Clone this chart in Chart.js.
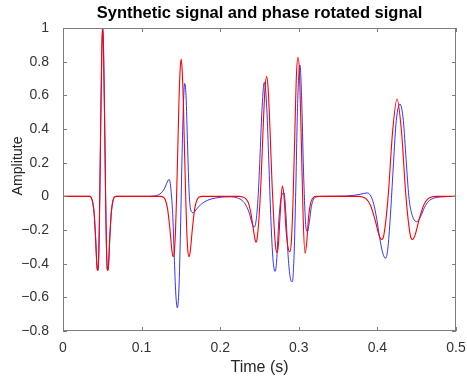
<!DOCTYPE html>
<html lang="en">
<head>
  <meta charset="UTF-8" />
  <title>Synthetic signal and phase rotated signal</title>
  <style>
    body {
      margin: 0;
      background: #ffffff;
    }
    canvas {
      display: block;
    }
  </style>
</head>
<body>
  <canvas id="chart" width="467" height="379"></canvas>

  <script src="https://cdn.jsdelivr.net/npm/chart.js"></script>
  <script>
    // synthetic signal (red)
    const redT = [0, 0.034, 0.0357, 0.0394, 0.0413, 0.0431, 0.0441, 0.045, 0.0459, 0.0468, 0.0477, 0.0487, 0.0496, 0.0505,
      0.0514, 0.0523, 0.0533, 0.0542, 0.0551, 0.056, 0.0569, 0.0579, 0.0597, 0.0616, 0.0653, 0.068,
      0.124, 0.1273, 0.1301, 0.133, 0.1359, 0.1388, 0.1403, 0.1416, 0.1431, 0.1445, 0.146, 0.1474, 0.1489, 0.1503,
      0.1517, 0.1532, 0.1546, 0.1561, 0.1575, 0.159, 0.1603, 0.1618, 0.1647, 0.1676, 0.1705, 0.1733, 0.177,
      0.224, 0.228, 0.232, 0.236, 0.239, 0.242, 0.2445, 0.2455, 0.247, 0.2495, 0.252, 0.2545, 0.257, 0.2591,
      0.261, 0.2635, 0.266, 0.2685, 0.2705, 0.2723, 0.274, 0.2765, 0.279, 0.2812, 0.2838, 0.2865, 0.2888,
      0.2905, 0.2925, 0.2948, 0.297, 0.299, 0.301, 0.3032, 0.3055, 0.3079, 0.31, 0.3125, 0.315, 0.318, 0.322,
      0.376, 0.38, 0.3854, 0.391, 0.3967, 0.4024, 0.4054, 0.408, 0.4137, 0.4193, 0.425, 0.4307, 0.4363, 0.442,
      0.4446, 0.4476, 0.4533, 0.459, 0.4646, 0.47, 0.475, 0.5];
    const redY = [0, 0, -0.005, -0.09, -0.23, -0.41, -0.44, -0.41, -0.26, 0, 0.33, 0.66, 0.91, 1,
      0.91, 0.66, 0.33, 0, -0.26, -0.41, -0.44, -0.41, -0.23, -0.09, -0.005, 0,
      0, -0.004, -0.02, -0.073, -0.188, -0.331, -0.358, -0.331, -0.21, 0, 0.27, 0.54, 0.74, 0.816,
      0.74, 0.54, 0.27, 0, -0.21, -0.331, -0.358, -0.331, -0.188, -0.073, -0.02, -0.004, 0,
      0, -0.003, -0.012, -0.04, -0.1, -0.19, -0.26, -0.273, -0.25, -0.12, 0.1, 0.39, 0.64, 0.711,
      0.64, 0.38, 0.07, -0.17, -0.3, -0.333, -0.29, -0.09, 0.061, 0, -0.2, -0.31, -0.329,
      -0.27, -0.05, 0.35, 0.72, 0.826, 0.72, 0.33, -0.12, -0.339, -0.28, -0.12, -0.04, -0.01, 0,
      0, -0.003, -0.014, -0.051, -0.134, -0.235, -0.256, -0.235, 0, 0.383, 0.578, 0.383, 0, -0.235,
      -0.256, -0.235, -0.134, -0.051, -0.014, -0.003, 0, 0];

    // phase rotated signal (blue)
    const blueT = [0, 0.034, 0.0357, 0.0394, 0.0413, 0.0431, 0.0441, 0.045, 0.0459, 0.0468, 0.0477, 0.0487, 0.0496, 0.0505,
      0.0514, 0.0523, 0.0533, 0.0542, 0.0551, 0.056, 0.0569, 0.0579, 0.0597, 0.0616, 0.0653, 0.068,
      0.11, 0.115, 0.12, 0.125, 0.129, 0.132, 0.1349, 0.1362, 0.1375, 0.1395, 0.1415, 0.1435, 0.1455, 0.1475,
      0.1495, 0.1515, 0.1535, 0.1548, 0.1565, 0.1585, 0.1605, 0.1625, 0.1658, 0.17, 0.175, 0.18, 0.187, 0.2, 0.21,
      0.215, 0.222, 0.228, 0.233, 0.237, 0.2405, 0.243, 0.2455, 0.248, 0.2505, 0.253, 0.2561, 0.259, 0.2615,
      0.264, 0.2665, 0.2685, 0.2701, 0.272, 0.2745, 0.2775, 0.2812, 0.2835, 0.2865, 0.289, 0.2917, 0.294,
      0.2962, 0.2985, 0.3015, 0.3035, 0.306, 0.3085, 0.3109, 0.3135, 0.316, 0.319, 0.323, 0.33,
      0.35, 0.36, 0.37, 0.378, 0.3863, 0.3905, 0.395, 0.399, 0.403, 0.407, 0.4105, 0.4135, 0.417, 0.4205,
      0.424, 0.4288, 0.433, 0.4365, 0.44, 0.4435, 0.45, 0.455, 0.46, 0.465, 0.471, 0.48, 0.5];
    const blueY = [0, 0, -0.005, -0.09, -0.23, -0.41, -0.44, -0.41, -0.26, 0, 0.33, 0.66, 0.91, 1,
      0.91, 0.66, 0.33, 0, -0.26, -0.41, -0.44, -0.41, -0.23, -0.09, -0.005, 0,
      0, 0.002, 0.006, 0.02, 0.045, 0.078, 0.1, 0.085, 0.03, -0.1, -0.35, -0.58, -0.662, -0.55,
      -0.2, 0.25, 0.58, 0.671, 0.6, 0.3, 0.02, -0.08, -0.097, -0.075, -0.05, -0.033, -0.018, -0.006, -0.003,
      -0.003, -0.01, -0.025, -0.055, -0.1, -0.16, -0.184, -0.15, -0.02, 0.22, 0.5, 0.677, 0.55, 0.25,
      -0.08, -0.33, -0.43, -0.445, -0.37, -0.15, -0.01, 0.021, -0.1, -0.36, -0.48, -0.507, -0.35,
      0.05, 0.55, 0.78, 0.6, 0.15, -0.15, -0.21, -0.15, -0.06, -0.015, -0.003, 0,
      0.001, 0.002, 0.006, 0.012, 0.02, 0.01, -0.04, -0.13, -0.25, -0.34, -0.368, -0.3, -0.08, 0.2,
      0.45, 0.548, 0.45, 0.22, 0, -0.1, -0.151, -0.12, -0.065, -0.03, -0.012, -0.004, 0];

    const xTicks = [0, 0.1, 0.2, 0.3, 0.4, 0.5];
    const xTickLabels = ['0', '0.1', '0.2', '0.3', '0.4', '0.5'];
    const yTicks = [-0.8, -0.6, -0.4, -0.2, 0, 0.2, 0.4, 0.6, 0.8, 1];
    const yTickLabels = ['\u22120.8', '\u22120.6', '\u22120.4', '\u22120.2', '0', '0.2', '0.4', '0.6', '0.8', '1'];

    const FONT = '"Liberation Sans", Arial, Helvetica, sans-serif';

    function pairs(ts, ys) {
      return ts.map((t, i) => ({ x: t, y: ys[i] }));
    }

    // box, inner ticks and the texts, matlab style
    const decor = {
      id: 'decor',
      afterDraw(chart) {
        const { ctx, chartArea: a, scales: { x, y } } = chart;
        ctx.save();
        ctx.strokeStyle = '#7d7d7d';
        ctx.lineWidth = 1;
        ctx.beginPath();
        xTicks.forEach(v => {
          const px = Math.round(x.getPixelForValue(v)) + 0.5;
          ctx.moveTo(px, a.bottom); ctx.lineTo(px, a.bottom - 4);
          ctx.moveTo(px, a.top); ctx.lineTo(px, a.top + 4);
        });
        yTicks.forEach(v => {
          const py = Math.round(y.getPixelForValue(v)) + 0.5;
          ctx.moveTo(a.left, py); ctx.lineTo(a.left + 4, py);
          ctx.moveTo(a.right, py); ctx.lineTo(a.right - 4, py);
        });
        ctx.stroke();
        ctx.strokeRect(a.left + 0.5, a.top + 0.5, a.right - a.left - 1, a.bottom - a.top - 1);

        ctx.fillStyle = '#000';
        ctx.textAlign = 'center';
        ctx.textBaseline = 'middle';
        ctx.font = 'bold 16.5px ' + FONT;
        ctx.fillText('Synthetic signal and phase rotated signal', (a.left + a.right) / 2, 13);

        ctx.fillStyle = '#262626';
        ctx.font = '16px ' + FONT;
        ctx.fillText('Time (s)', (a.left + a.right) / 2, 368);

        ctx.translate(18, 166);
        ctx.rotate(-Math.PI / 2);
        ctx.font = '15.5px ' + FONT;
        ctx.fillText('Amplitute', 0, 0, 59);
        ctx.restore();
      }
    };

    new Chart(document.getElementById('chart'), {
      type: 'line',
      data: {
        datasets: [
          {
            label: 'Synthetic signal',
            data: pairs(redT, redY),
            borderColor: '#ff0000',
            borderWidth: 1.1,
            pointRadius: 0,
            cubicInterpolationMode: 'monotone'
          },
          {
            label: 'Phase rotated signal',
            data: pairs(blueT, blueY),
            borderColor: '#0000ff',
            borderWidth: 0.8,
            pointRadius: 0,
            cubicInterpolationMode: 'monotone'
          }
        ]
      },
      options: {
        responsive: false,
        animation: false,
        layout: { padding: { top: 28, right: 11, left: 0, bottom: 0 } },
        plugins: {
          legend: { display: false },
          title: { display: false },
          tooltip: { enabled: false }
        },
        scales: {
          x: {
            type: 'linear',
            min: 0,
            max: 0.5,
            afterFit: s => { s.height = 48; },
            afterBuildTicks: s => { s.ticks = xTicks.map(v => ({ value: v })); },
            grid: { display: false },
            border: { display: false },
            ticks: {
              color: '#333',
              font: { family: FONT, size: 14 },
              padding: 1,
              maxRotation: 0,
              callback: (v, i) => xTickLabels[i]
            }
          },
          y: {
            min: -0.8,
            max: 1,
            afterFit: s => { s.width = 63; },
            afterBuildTicks: s => { s.ticks = yTicks.map(v => ({ value: v })); },
            grid: { display: false },
            border: { display: false },
            ticks: {
              color: '#333',
              font: { family: FONT, size: 14 },
              padding: 6,
              callback: (v, i) => yTickLabels[i]
            }
          }
        }
      },
      plugins: [decor]
    });
  </script>
</body>
</html>
